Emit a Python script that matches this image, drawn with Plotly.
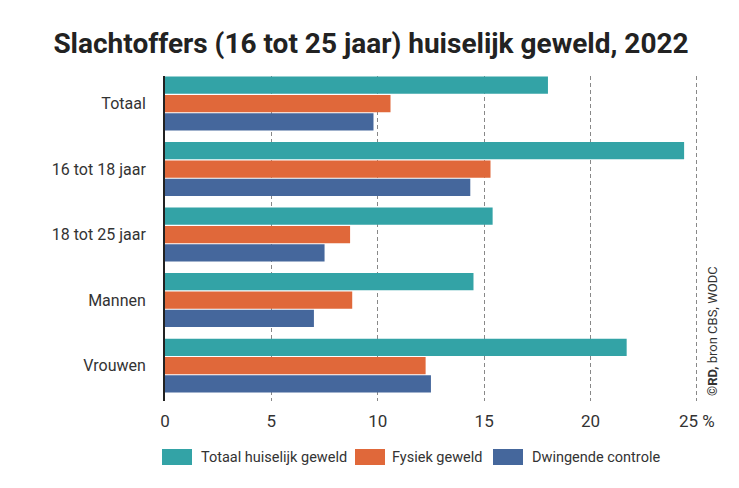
import plotly.graph_objects as go

categories = ["Totaal", "16 tot 18 jaar", "18 tot 25 jaar", "Mannen", "Vrouwen"]
totaal_huiselijk = [18.0, 24.4, 15.4, 14.5, 21.7]
fysiek = [10.6, 15.3, 8.7, 8.8, 12.25]
dwingend = [9.8, 14.35, 7.5, 7.0, 12.5]
tick_vals = [0, 5, 10, 15, 20, 25]
tick_text = ["0", "5", "10", "15", "20", "25 %"]

series = [
    ("Totaal huiselijk geweld", totaal_huiselijk, "#33A3A6"),
    ("Fysiek geweld", fysiek, "#E0683A"),
    ("Dwingende controle", dwingend, "#45679C"),
]

FONT = "Roboto, sans-serif"
OFF = 8  # default page body margin
W, H = 739 - OFF, 488 - OFF
# target plot box in window pixels: x 165..699, y 76..401
ML, MT = 165 - OFF, 76 - OFF
MR, MB = W - (699 - OFF), H - (401 - OFF)
PW, PH = W - ML - MR, H - MT - MB


def px(x):
    return (x - OFF - ML) / PW


def py(y):
    return (H - MB - (y - OFF)) / PH


fig = go.Figure()
for name, vals, col in series:
    fig.add_trace(go.Bar(
        y=categories, x=vals, name=name, orientation="h",
        marker=dict(color=col, line=dict(width=0)),
        showlegend=False,
    ))

fig.update_layout(
    width=W, height=H,
    margin=dict(l=ML, r=MR, t=MT, b=MB, autoexpand=False),
    paper_bgcolor="white", plot_bgcolor="white",
    barmode="group", bargap=0.16, bargroupgap=0.06,
    font=dict(family=FONT, size=16, color="#333333"),
    title=dict(text="<b>Slachtoffers (16 tot 25 jaar) huiselijk geweld, 2022</b>",
               x=px(371), xref="paper", xanchor="center",
               y=1 - (43 - OFF) / H, yanchor="middle",
               font=dict(family=FONT, size=28, color="#222222")),
    xaxis=dict(range=[0, 25.1], tickvals=tick_vals, ticktext=tick_text,
               showgrid=True, gridcolor="#888888", griddash="4px,3px", gridwidth=1,
               zeroline=False, showline=False, ticks="", ticklabelstandoff=8,
               tickfont=dict(family=FONT, size=17, color="#333333"), automargin=False),
    yaxis=dict(range=[4.54, -0.42], showline=True, linecolor="#222222", linewidth=2,
               ticks="", layer="below traces", automargin=False,
               tickfont=dict(family=FONT, size=16, color="#333333"),
               ticklabelstandoff=14),
)

# legend (manual, to match wide swatches)
legend_x = [(162, 199), (355, 390), (493, 530)]
for (name, vals, col), (sx, tx) in zip(series, legend_x):
    fig.add_shape(type="rect", xref="paper", yref="paper",
                  x0=px(sx), x1=px(sx + 30), y0=py(465), y1=py(449),
                  fillcolor=col, line=dict(width=0))
    fig.add_annotation(text=name, xref="paper", yref="paper",
                       x=px(tx), y=py(457), xanchor="left", yanchor="middle",
                       showarrow=False, font=dict(family=FONT, size=14.5, color="#333333"))

fig.add_annotation(
    text="<b>©RD,</b> bron CBS, WODC", textangle=-90,
    xref="paper", yref="paper", x=px(712), y=py(398), xanchor="center", yanchor="bottom",
    showarrow=False, font=dict(family=FONT, size=13, color="#333333"),
)

fig.write_html("out.html")
